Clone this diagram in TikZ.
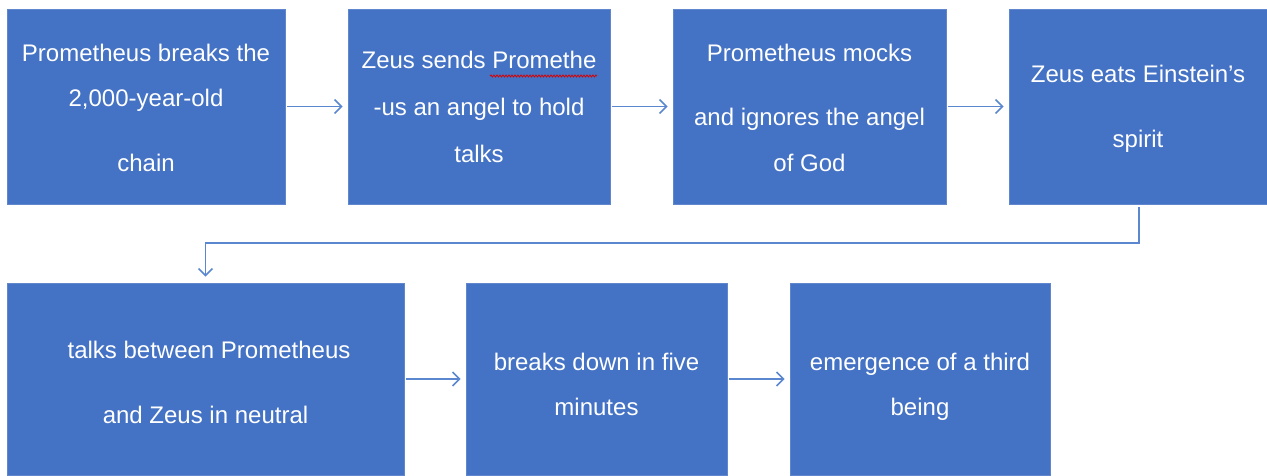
\documentclass[tikz,border=0pt]{standalone}
\usepackage{fontspec}
\setmainfont{Liberation Sans}
\usetikzlibrary{arrows.meta,decorations.pathmorphing}
\definecolor{boxblue}{HTML}{4472C4}
\definecolor{arrowblue}{HTML}{5B87D0}
\begin{document}
\begin{tikzpicture}[x=1pt,y=-1pt,
  box/.style={rectangle,fill=boxblue,draw=boxblue!85!white,line width=0.6pt,inner sep=0pt},
  txt/.style={text=white,font=\fontsize{24}{28}\selectfont,anchor=base,inner sep=0pt},
  flow/.style={draw=arrowblue,line width=1.8pt,-{Straight Barb[length=7pt,width=14pt,line width=1.6pt]}},
  spell/.style={draw=red!85!black,line width=0.8pt,decorate,decoration={snake,segment length=3pt,amplitude=1pt}}]
\useasboundingbox (0,0) rectangle (1267,475);
\fill[white] (0,0) rectangle (1267,475);
% boxes
\node[box,minimum width=278pt,minimum height=195pt] (b1) at (146,106.5) {};
\node[box,minimum width=262pt,minimum height=195pt] (b2) at (479,106.5) {};
\node[box,minimum width=273pt,minimum height=195pt] (b3) at (809.5,106.5) {};
\node[box,minimum width=258pt,minimum height=195pt] (b4) at (1138,106.5) {};
\node[box,minimum width=397pt,minimum height=192pt] (b5) at (205.5,379) {};
\node[box,minimum width=261pt,minimum height=192pt] (b6) at (596.5,379) {};
\node[box,minimum width=260pt,minimum height=192pt] (b7) at (920,379) {};
% texts
\node[txt] (t11) at (146,61) {Prometheus breaks the};
\node[txt] (t12) at (146,106) {2,000-year-old};
\node[txt] (t13) at (146,171) {chain};
\node[txt] (t21) at (479,68) {Zeus sends Promethe};
\node[txt] (t22) at (479,115) {-us an angel to hold};
\node[txt] (t23) at (479,162) {talks};
\node[txt] (t31) at (809.5,61) {Prometheus mocks};
\node[txt] (t32) at (809.5,125) {and ignores the angel};
\node[txt] (t33) at (809.5,171) {of God};
\node[txt] (t41) at (1138,82) {Zeus eats Einstein’s};
\node[txt] (t42) at (1138,147) {spirit};
\node[txt] (t51) at (209,358) {talks between Prometheus};
\node[txt] (t52) at (205.5,423) {and Zeus in neutral};
\node[txt] (t61) at (596.5,370) {breaks down in five};
\node[txt] (t62) at (596.5,415) {minutes};
\node[txt] (t71) at (920,370) {emergence of a third};
\node[txt] (t72) at (920,415) {being};
% spell-check underline
\draw[spell] (490,76) -- (597,76);
% connectors
\draw[flow,shorten <=2pt,shorten >=5pt] (b1.east) -- (b2.west);
\draw[flow,shorten <=2pt,shorten >=5pt] (b2.east) -- (b3.west);
\draw[flow,shorten <=2pt,shorten >=5pt] (b3.east) -- (b4.west);
\draw[flow,shorten <=2pt,shorten >=5pt] (b5.east) -- (b6.west);
\draw[flow,shorten <=2pt,shorten >=5pt] (b6.east) -- (b7.west);
\coordinate (bend) at (1139,243);
\draw[flow,shorten <=3pt,shorten >=6pt] (b4.south -| bend) -- (bend) -| (b5.north);
\end{tikzpicture}
\end{document}
